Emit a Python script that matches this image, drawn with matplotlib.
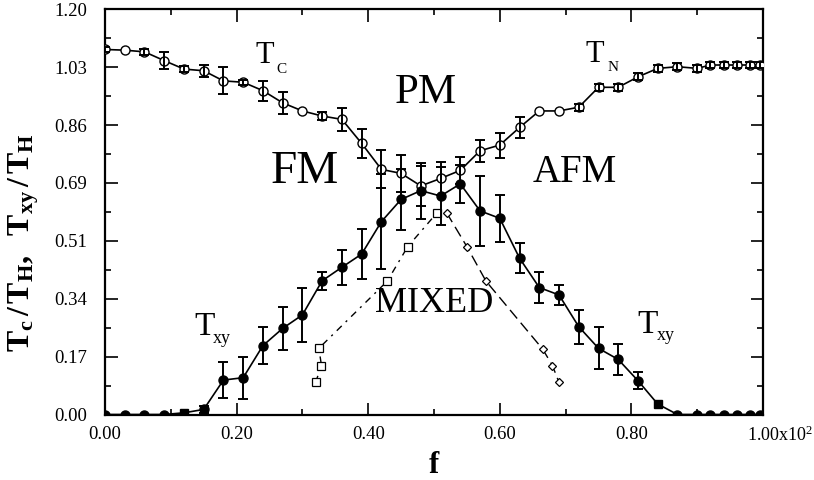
import numpy as np
import matplotlib.pyplot as plt
from matplotlib.ticker import FixedLocator

plt.rcParams['font.family'] = 'Liberation Serif'
plt.rcParams['mathtext.fontset'] = 'custom'
plt.rcParams['mathtext.rm'] = 'Liberation Serif'
plt.rcParams['mathtext.it'] = 'Liberation Serif:italic'
plt.rcParams['mathtext.bf'] = 'Liberation Serif:bold'

# concentration f (x 10^2)
f = [0.00, 0.03, 0.06, 0.09, 0.12, 0.15, 0.18, 0.21, 0.24, 0.27,
     0.30, 0.33, 0.36, 0.39, 0.42, 0.45, 0.48, 0.51, 0.54, 0.57,
     0.60, 0.63, 0.66, 0.69, 0.72, 0.75, 0.78, 0.81, 0.84, 0.87,
     0.90, 0.92, 0.94, 0.96, 0.98, 0.995]

# Tc (left) / TN (right), open circles
t_cn = [1.081, 1.079, 1.074, 1.048, 1.023, 1.018, 0.988, 0.984, 0.959, 0.923,
        0.899, 0.884, 0.874, 0.803, 0.726, 0.714, 0.677, 0.699, 0.723, 0.781,
        0.798, 0.850, 0.899, 0.899, 0.910, 0.969, 0.969, 1.000, 1.025, 1.030,
        1.025, 1.035, 1.035, 1.035, 1.035, 1.035]
t_cn_err = [0.008, 0, 0.008, 0.025, 0.008, 0.018, 0.040, 0.008, 0.030, 0.032,
            0, 0.012, 0.035, 0.042, 0.056, 0.055, 0.060, 0.050, 0.040, 0.033,
            0.037, 0.032, 0, 0, 0.010, 0.010, 0.010, 0.010, 0.010, 0.010,
            0.010, 0.010, 0.010, 0.010, 0.010, 0.010]

# Txy, filled symbols
t_xy = [0, 0, 0, 0, 0.005, 0.015, 0.102, 0.109, 0.204, 0.255,
        0.295, 0.396, 0.436, 0.475, 0.571, 0.637, 0.663, 0.647, 0.683, 0.603,
        0.581, 0.463, 0.376, 0.354, 0.260, 0.196, 0.163, 0.100, 0.031, 0,
        0, 0, 0, 0, 0, 0]
t_xy_err = [0, 0, 0, 0, 0, 0.010, 0.054, 0.062, 0.055, 0.063,
            0.080, 0.026, 0.052, 0.075, 0.140, 0.090, 0.083, 0.085, 0.056, 0.104,
            0.070, 0.045, 0.045, 0.030, 0.050, 0.062, 0.045, 0.025, 0, 0,
            0, 0, 0, 0, 0, 0]
f_xy_square = [0.12, 0.84]

# mixed phase boundaries
f_mix_sq = [0.320, 0.329, 0.325, 0.429, 0.460, 0.504]
t_mix_sq = [0.095, 0.145, 0.196, 0.395, 0.497, 0.596]
f_mix_di = [0.519, 0.550, 0.579, 0.665, 0.680, 0.690]
t_mix_di = [0.598, 0.497, 0.395, 0.194, 0.145, 0.095]

x_ticks = [0.0, 0.2, 0.4, 0.6, 0.8, 1.0]
x_ticklabels = ['0.00', '0.20', '0.40', '0.60', '0.80', '']
y_ticklabels = ['0.00', '0.17', '0.34', '0.51', '0.69', '0.86', '1.03', '1.20']

fig = plt.figure(figsize=(8.14, 4.8), dpi=100)
ax = fig.add_axes([105/814, 65.5/480, 658/814, 405.2/480])

f = np.array(f)
t_xy = np.array(t_xy)
cn_err = np.where(np.array(t_cn_err) > 0, t_cn_err, np.nan)
xy_err = np.where(np.array(t_xy_err) > 0, t_xy_err, np.nan)

eb = dict(fmt='none', ecolor='black', elinewidth=1.4, capsize=3.6, capthick=1.4, zorder=4)

ax.plot(f, t_cn, '-o', color='black', lw=1.2, ms=6.5, mfc='white', mec='black', mew=1.0, zorder=3)
ax.errorbar(f, t_cn, yerr=cn_err, **eb)

sq = np.isin(f, f_xy_square)
ax.plot(f, t_xy, '-', color='black', lw=1.2, zorder=3)
ax.plot(f[~sq], t_xy[~sq], 'o', color='black', ms=6.5, zorder=3)
ax.plot(f[sq], t_xy[sq], 's', color='black', ms=6, zorder=3)
ax.errorbar(f, t_xy, yerr=xy_err, **eb)

ax.plot(f_mix_sq, t_mix_sq, color='black', lw=1.0, ls=(0, (5, 4, 1.5, 4)),
        marker='s', ms=6, mfc='white', mec='black', mew=0.9, zorder=3)
ax.plot(f_mix_di, t_mix_di, color='black', lw=1.0, ls=(0, (8, 4)),
        marker='D', ms=4.5, mfc='white', mec='black', mew=0.9, zorder=3)

ax.set_xlim(0, 1.0)
ax.set_ylim(0, 1.2)
ax.xaxis.set_major_locator(FixedLocator(x_ticks))
ax.xaxis.set_minor_locator(FixedLocator([0.1, 0.3, 0.5, 0.7, 0.9]))
ax.set_xticklabels(x_ticklabels)
yt = np.linspace(0, 1.2, 8)
ax.yaxis.set_major_locator(FixedLocator(yt))
ax.yaxis.set_minor_locator(FixedLocator(yt[:-1] + 0.6/7))
ax.set_yticklabels(y_ticklabels)
ax.tick_params(which='both', direction='in', top=True, right=True, labelsize=13.5, width=1.2)
ax.tick_params(which='major', length=9)
ax.tick_params(which='minor', length=4.5)
ax.tick_params(axis='x', pad=8)
ax.tick_params(axis='y', pad=13)
for s in ax.spines.values():
    s.set_linewidth(1.6)

ax.annotate('1.00x10$^2$', xy=(1.0, 0), xycoords=('data', 'axes fraction'),
            xytext=(-11.5, -8), textcoords='offset points', ha='left', va='top', fontsize=13)

ax.set_xlabel('f', fontsize=22, fontweight='bold')
ax.xaxis.set_label_coords(0.5, -0.09)
ax.set_ylabel(r'$\mathbf{T_c\,/\,T_H,\ \ T_{xy}\,/\,T_H}$', fontsize=23)
ax.yaxis.set_label_coords(-0.098, 0.425)

# region and curve labels
ax.text(0.243, 1.041, 'T', fontsize=22, ha='center', va='baseline')
ax.text(0.268, 1.011, 'C', fontsize=11, ha='center', va='baseline')
ax.text(0.744, 1.044, 'T', fontsize=22, ha='center', va='baseline')
ax.text(0.772, 1.017, 'N', fontsize=11, ha='center', va='baseline')
ax.text(0.151, 0.235, 'T', fontsize=24, ha='center', va='baseline')
ax.text(0.178, 0.212, 'xy', fontsize=13, ha='center', va='baseline')
ax.text(0.824, 0.241, 'T', fontsize=24, ha='center', va='baseline')
ax.text(0.853, 0.221, 'xy', fontsize=13, ha='center', va='baseline')
ax.text(0.488, 0.922, 'PM', fontsize=31, ha='center', va='baseline')
ax.text(0.303, 0.685, 'FM', fontsize=34, ha='center', va='baseline')
ax.text(0.714, 0.688, 'AFM', fontsize=28, ha='center', va='baseline')
ax.text(0.500, 0.304, 'MIXED', fontsize=26, ha='center', va='baseline')

fig.savefig('out.png', dpi=100)
